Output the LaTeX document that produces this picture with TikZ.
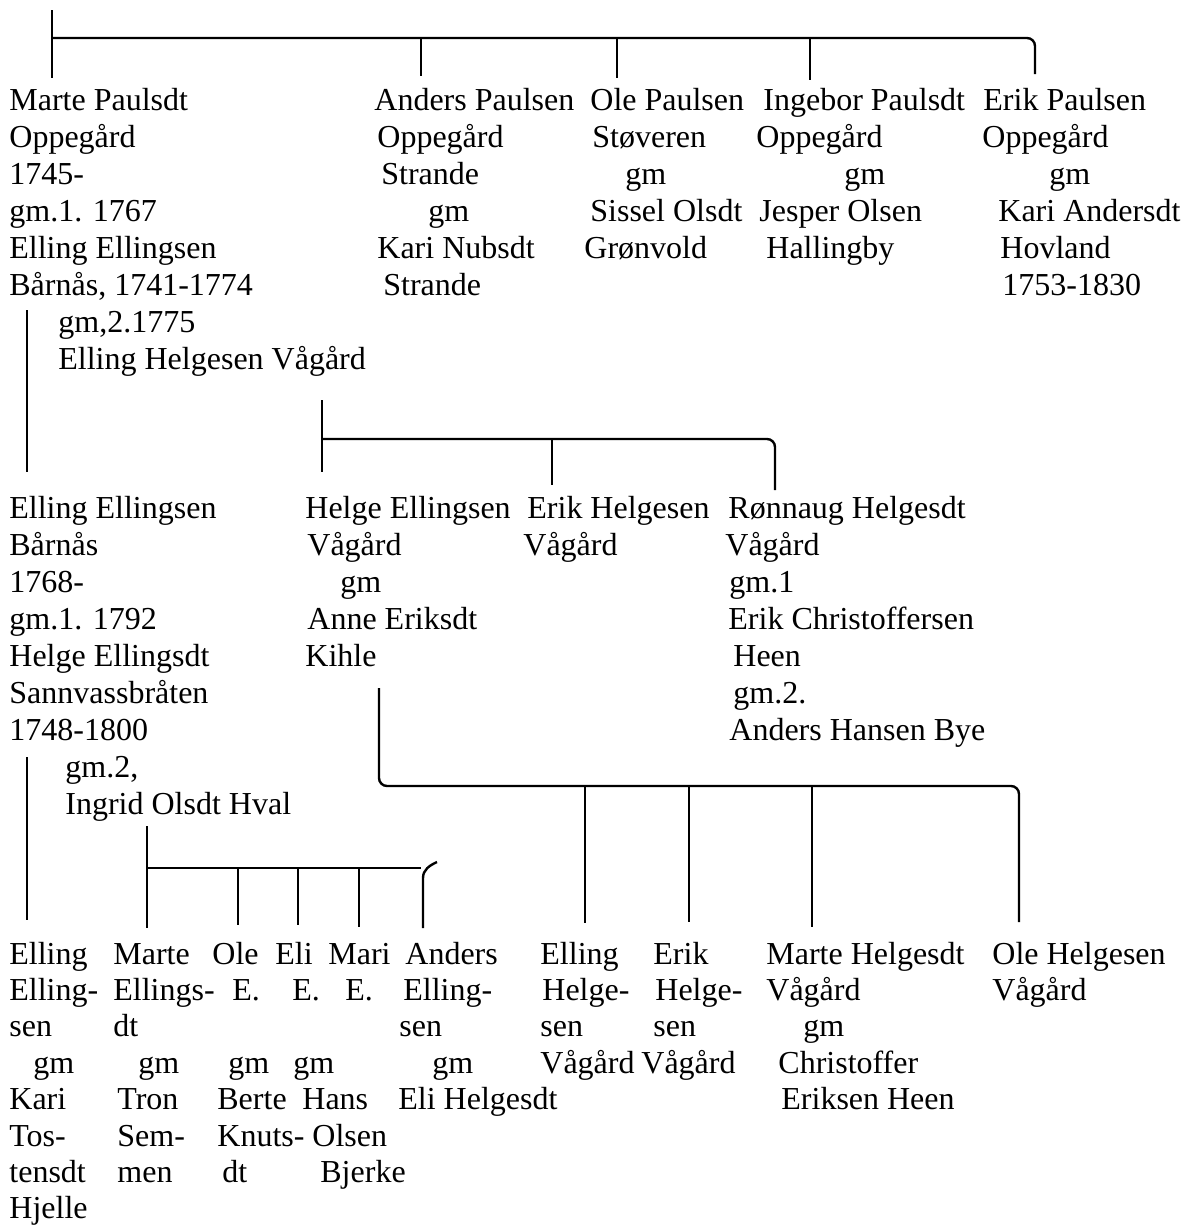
\documentclass[tikz,border=0pt]{standalone}
\usepackage{fontspec}
\setmainfont{Liberation Serif}
\usetikzlibrary{positioning}
\newdimen\pxu \pxu=0.5pt
\newcommand{\gap}[1]{\hspace*{#1\pxu}}

\begin{document}
\begin{tikzpicture}[x=0.5pt, y=-0.5pt,
  font=\fontsize{16pt}{18.5pt}\selectfont,
  % placed at the first baseline; #1 = number of lines in the block
  person/.style={anchor=base west, inner sep=0pt, align=left,
                 yshift={-(#1-1)*18.5pt}},
  % last generation is set a little tighter
  kid/.style={person=#1, font=\fontsize{16pt}{18.2pt}\selectfont,
              yshift={(#1-1)*0.3pt}},
  bar/.style={line width=1.2pt},
  elbow/.style={bar, rounded corners=4pt}
]
\useasboundingbox (0,0) rectangle (1185,1226);

% ── Generation 1: children of Paul Oppegård ──
\node[person=8] (marteP) at (9,110)
  {Marte Paulsdt\\Oppegård\\1745-\\gm.1. 1767\\Elling Ellingsen\\
   Bårnås, 1741-1774\\\gap{49}gm,2.1775\\\gap{49}Elling Helgesen Vågård};
\node[person=6] (andersP) at (374,110)
  {Anders Paulsen\\\gap{3}Oppegård\\\gap{7}Strande\\\gap{54}gm\\
   \gap{3}Kari Nubsdt\\\gap{9}Strande};
\node[person=5] (oleP) at (584,110)
  {\gap{6}Ole Paulsen\\\gap{8}Støveren\\\gap{41}gm\\\gap{6}Sissel Olsdt\\Grønvold};
\node[person=5] (ingeborP) at (756,110)
  {\gap{7}Ingebor Paulsdt\\Oppegård\\\gap{88}gm\\\gap{3}Jesper Olsen\\
   \gap{10}Hallingby};
\node[person=6] (erikP) at (982,110)
  {\gap{1}Erik Paulsen\\Oppegård\\\gap{67}gm\\\gap{16}Kari Andersdt\\
   \gap{18}Hovland\\\gap{20}1753-1830};

% ── Generation 2 ──
\node[person=9] (ellingE) at (9,518)
  {Elling Ellingsen\\Bårnås\\1768-\\gm.1. 1792\\Helge Ellingsdt\\
   Sannvassbråten\\1748-1800\\\gap{56}gm.2,\\\gap{56}Ingrid Olsdt Hval};
\node[person=5] (helgeE) at (305,518)
  {Helge Ellingsen\\\gap{2}Vågård\\\gap{35}gm\\\gap{2}Anne Eriksdt\\Kihle};
\node[person=2] (erikH) at (523,518)
  {\gap{4}Erik Helgesen\\Vågård};
\node[person=7] (ronnaugH) at (725,518)
  {\gap{3}Rønnaug Helgesdt\\Vågård\\\gap{4}gm.1\\\gap{3}Erik Christoffersen\\
   \gap{8}Heen\\\gap{8}gm.2.\\\gap{4}Anders Hansen Bye};

% ── Generation 3 ──
\node[kid=8] (ellingEE) at (9,964)
  {Elling\\Elling-\\sen\\\gap{24}gm\\Kari\\Tos-\\tensdt\\Hjelle};
\node[kid=7] (marteE) at (113,964)
  {Marte\\Ellings-\\dt\\\gap{25}gm\\\gap{4}Tron\\\gap{4}Sem-\\\gap{4}men};
\node[kid=7] (oleE) at (212,964)
  {Ole\\\gap{20}E.\\\mbox{}\\\gap{16}gm\\\gap{5}Berte\\\gap{5}Knuts-\\\gap{10}dt};
\node[kid=7] (eliE) at (275,964)
  {Eli\\\gap{17}E.\\\mbox{}\\\gap{18}gm\\\gap{27}Hans\\\gap{37}Olsen\\\gap{45}Bjerke};
\node[kid=2] (mariE) at (328,964)
  {Mari\\\gap{17}E.};
\node[kid=5] (andersE) at (398,964)
  {\gap{7}Anders\\\gap{5}Elling-\\\gap{1}sen\\\gap{34}gm\\Eli Helgesdt};
\node[kid=4] (ellingH) at (540,964)
  {Elling\\\gap{2}Helge-\\sen\\Vågård};
\node[kid=4] (erikHH) at (641,964)
  {\gap{12}Erik\\\gap{14}Helge-\\\gap{12}sen\\Vågård};
\node[kid=5] (marteH) at (766,964)
  {Marte Helgesdt\\Vågård\\\gap{37}gm\\\gap{12}Christoffer\\\gap{15}Eriksen Heen};
\node[kid=2] (oleH) at (992,964)
  {Ole Helgesen\\Vågård};

% ── Bracket: Paul's children ──
\coordinate (p-top) at (52,10);
\coordinate (p-bar) at (52,38);
\coordinate (p-end) at (1035,74);
\draw[bar] (p-top) -- (52,78);
\draw[elbow] (p-bar) -| (p-end);
\foreach \x/\b in {421/76, 617/78, 810/80}
  \draw[bar] (\x,38) -- (\x,\b);

% ── Line of descent: Marte -> Elling -> Elling ──
\draw[bar] (27,310) -- (27,472);
\draw[bar] (27,757) -- (27,920);

% ── Bracket: Marte + Elling Helgesen Vågård ──
\coordinate (v-bar) at (322,439);
\coordinate (v-end) at (775,490);
\draw[bar] (322,400) -- (322,472);
\draw[elbow] (v-bar) -| (v-end);
\draw[bar] (552,439) -- (552,485);

% ── Bracket: Helge Ellingsen's children ──
\coordinate (h-top) at (379,688);
\coordinate (h-end) at (1019,922);
\draw[elbow] (h-top) |- (1019,786) -- (h-end);
\foreach \x/\b in {585/923, 689/922, 812/927}
  \draw[bar] (\x,786) -- (\x,\b);

% ── Bracket: Elling Ellingsen's children ──
\coordinate (e-top) at (147,826);
\coordinate (e-bar) at (147,868);
\draw[bar] (e-top) -- (147,928);
\draw[bar] (e-bar) -- (421,868);
\foreach \x/\b in {238/925, 298/925, 359/927}
  \draw[bar] (\x,868) -- (\x,\b);
\draw[bar] (423,928) -- (423,878) to[out=90, in=205] (437,862);

\end{tikzpicture}
\end{document}
